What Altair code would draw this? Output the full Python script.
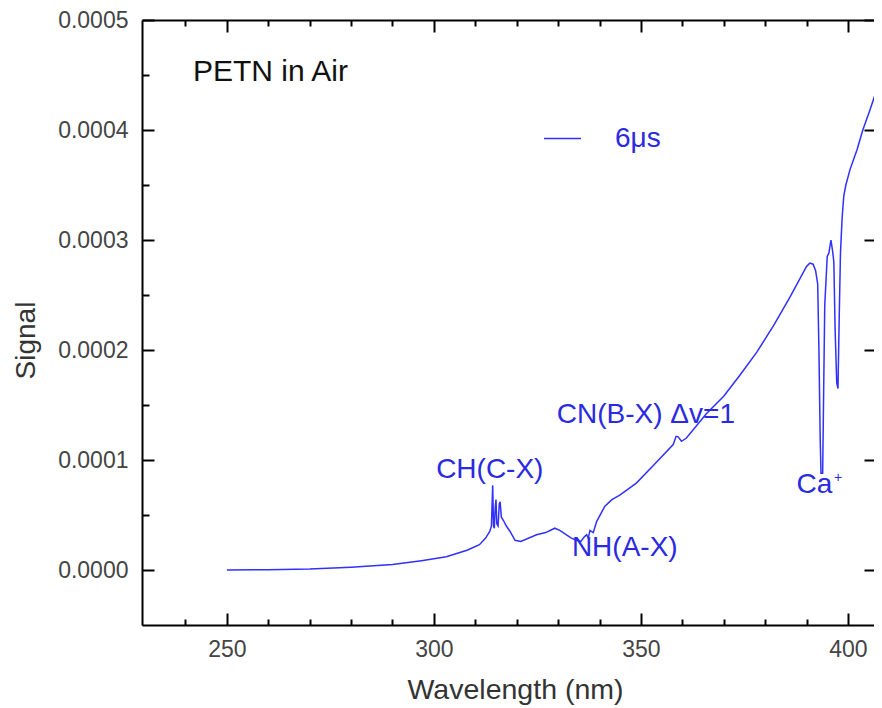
import altair as alt
import pandas as pd

FONT = "Liberation Sans"

# ---- spectrum ----
wavelength = [250.0, 260.0, 270.0, 280.0, 290.0, 297.0, 303.0, 308.0, 311.0, 312.5,
              313.5, 313.9, 314.2, 314.4, 314.6, 314.8, 315.0, 315.2, 315.5, 315.8,
              316.0, 316.3, 316.8, 317.5, 318.4, 319.6, 321.0, 324.8, 327.0, 329.2,
              330.4, 333.2, 334.5, 335.5, 336.3, 336.9, 337.3, 337.7, 338.5, 339.3,
              341.3, 343.0, 344.9, 348.9, 353.0, 357.8, 358.5, 359.0, 359.8, 361.0,
              365.8, 370.0, 373.9, 378.0, 382.0, 386.0, 390.0, 390.8, 391.6, 392.2,
              392.7, 393.0, 393.3, 393.5, 393.9, 394.1, 394.4, 395.0, 395.4, 395.9,
              396.3, 396.6, 396.9, 397.3, 397.6, 397.9, 398.2, 398.6, 399.0, 399.5,
              400.5, 402.2, 403.6, 405.3, 407.7, 408.3]
signal = [0.0, 0.0000003, 0.0000008, 0.0000025, 0.0000050, 0.0000085, 0.0000120, 0.0000180, 0.0000230, 0.0000290,
          0.0000350, 0.0000400, 0.0000770, 0.0000400, 0.0000380, 0.0000560, 0.0000640, 0.0000420, 0.0000400, 0.0000600,
          0.0000620, 0.0000480, 0.0000450, 0.0000400, 0.0000350, 0.0000270, 0.0000260, 0.0000320, 0.0000340, 0.0000380,
          0.0000360, 0.0000290, 0.0000270, 0.0000260, 0.0000300, 0.0000320, 0.0000290, 0.0000360, 0.0000340, 0.0000440,
          0.0000580, 0.0000640, 0.0000680, 0.0000790, 0.0000950, 0.0001140, 0.0001215, 0.0001210, 0.0001170, 0.0001200,
          0.0001420, 0.0001580, 0.0001770, 0.0001980, 0.0002220, 0.0002480, 0.0002760, 0.0002790, 0.0002780, 0.0002720,
          0.0002600, 0.0002000, 0.0001200, 0.0000880, 0.0000880, 0.0001500, 0.0002400, 0.0002850, 0.0002880, 0.0003000,
          0.0002900, 0.0002800, 0.0002200, 0.0001700, 0.0001650, 0.0002300, 0.0002880, 0.0003200, 0.0003400, 0.0003500,
          0.0003640, 0.0003820, 0.0004000, 0.0004180, 0.0004450, 0.0004620]
series_name = "6μs"

# ---- axes ----
x_domain = [229.5, 406.3]
y_domain = [-0.00005, 0.0005]
x_major = [250, 300, 350, 400]
x_minor = [240, 260, 270, 280, 290, 310, 320, 330, 340, 360, 370, 380, 390]
y_major = [0.0, 0.0001, 0.0002, 0.0003, 0.0004, 0.0005]
y_minor = [0.00005, 0.00015, 0.00025, 0.00035, 0.00045]

# ---- annotations ----
ann_labels = ["CH(C-X)", "NH(A-X)", "CN(B-X) Δv=1", "Ca"]
ann_x = [313.5, 346.1, 351.2, 391.9]
ann_y = [0.0000909, 0.0000200, 0.0001410, 0.0000773]
sup_labels = ["+"]
sup_x = [397.6]
sup_y = [0.0000840]
title_labels = ["PETN in Air"]
title_x = [241.8]
title_y = [0.0004530]

LINE_BLUE = "#3030ff"
TEXT_BLUE = "#2a2ae0"

df = pd.DataFrame({"wavelength": wavelength, "signal": signal, "series": series_name})
ann_df = pd.DataFrame({"wavelength": ann_x, "signal": ann_y, "label": ann_labels})
sup_df = pd.DataFrame({"wavelength": sup_x, "signal": sup_y, "label": sup_labels})
title_df = pd.DataFrame({"wavelength": title_x, "signal": title_y, "label": title_labels})

xs = alt.Scale(domain=x_domain, nice=False, zero=False)
ys = alt.Scale(domain=y_domain, nice=False, zero=False)


def X(axis):
    return alt.X("wavelength:Q", scale=xs, axis=axis)


def Y(axis):
    return alt.Y("signal:Q", scale=ys, axis=axis)


def tick_axis(orient, values, size, domain=False):
    return alt.Axis(orient=orient, values=values, labels=False, domain=domain,
                    domainColor="black", domainWidth=2,
                    ticks=True, tickSize=size, tickWidth=2, tickColor="black",
                    offset=-size, grid=False, title="")


main_x_axis = alt.Axis(orient="bottom", values=x_major, format="d", ticks=False, tickSize=0,
                       labelPadding=13, labelFontSize=23, labelFont=FONT, labelColor="#444444",
                       domain=True, domainColor="black", domainWidth=2, grid=False,
                       title="Wavelength (nm)", titleFontSize=28.5, titleFont=FONT,
                       titleColor="#333333", titleFontWeight="normal",
                       titleX=373, titleY=73, titleAlign="center", titleBaseline="alphabetic")
main_y_axis = alt.Axis(orient="left", values=y_major, format=".4f", ticks=False, tickSize=0,
                       labelPadding=14, labelFontSize=23, labelFont=FONT, labelColor="#444444",
                       domain=True, domainColor="black", domainWidth=2, grid=False,
                       title="Signal", titleFontSize=28, titleFont=FONT,
                       titleColor="#333333", titleFontWeight="normal", titleAngle=270,
                       titleX=-108, titleY=320, titleAlign="center", titleBaseline="alphabetic")

line = alt.Chart(df).mark_line(clip=True, strokeWidth=1.5).encode(
    x=X(main_x_axis),
    y=Y(main_y_axis),
    color=alt.Color("series:N",
                    scale=alt.Scale(domain=[series_name], range=[LINE_BLUE]),
                    legend=alt.Legend(orient="none", legendX=401, legendY=99, title=None,
                                      symbolType="stroke", symbolSize=1369, symbolStrokeWidth=1.5,
                                      labelFontSize=28, labelFont=FONT, labelColor=TEXT_BLUE,
                                      labelOffset=33, padding=0)),
)

ghost = alt.Chart(df).mark_line(opacity=0)

layers = [
    line,
    ghost.encode(x=X(tick_axis("bottom", x_major, 12)), y=Y(tick_axis("left", y_major, 12))),
    ghost.encode(x=X(tick_axis("bottom", x_minor, 6)), y=Y(tick_axis("left", y_minor, 7))),
    ghost.encode(x=X(tick_axis("top", x_major, 12)), y=Y(tick_axis("right", y_major, 10))),
    ghost.encode(x=X(tick_axis("top", x_minor, 6)), y=Y(None)),
    ghost.encode(x=X(alt.Axis(orient="top", labels=False, ticks=False, domain=True,
                              domainColor="black", domainWidth=2, grid=False, title="")),
                 y=Y(None)),
    alt.Chart(ann_df).mark_text(fontSize=28, font=FONT, color=TEXT_BLUE, align="center",
                                baseline="middle").encode(x=X(None), y=Y(None), text="label:N"),
    alt.Chart(sup_df).mark_text(fontSize=14, font=FONT, color=TEXT_BLUE, align="center",
                                baseline="middle").encode(x=X(None), y=Y(None), text="label:N"),
    alt.Chart(title_df).mark_text(fontSize=30, font=FONT, color="#111111", align="left",
                                  baseline="middle").encode(x=X(None), y=Y(None), text="label:N"),
]

chart = alt.layer(*layers).resolve_axis(x="independent", y="independent").properties(
    width=732, height=605,
    autosize=alt.AutoSizeParams(type="none"),
    padding={"left": 134, "top": 12, "right": 0, "bottom": 80},
).configure_view(stroke=None).configure(background="white")

chart.save("out.html", embed_options={"renderer": "svg", "actions": False})
